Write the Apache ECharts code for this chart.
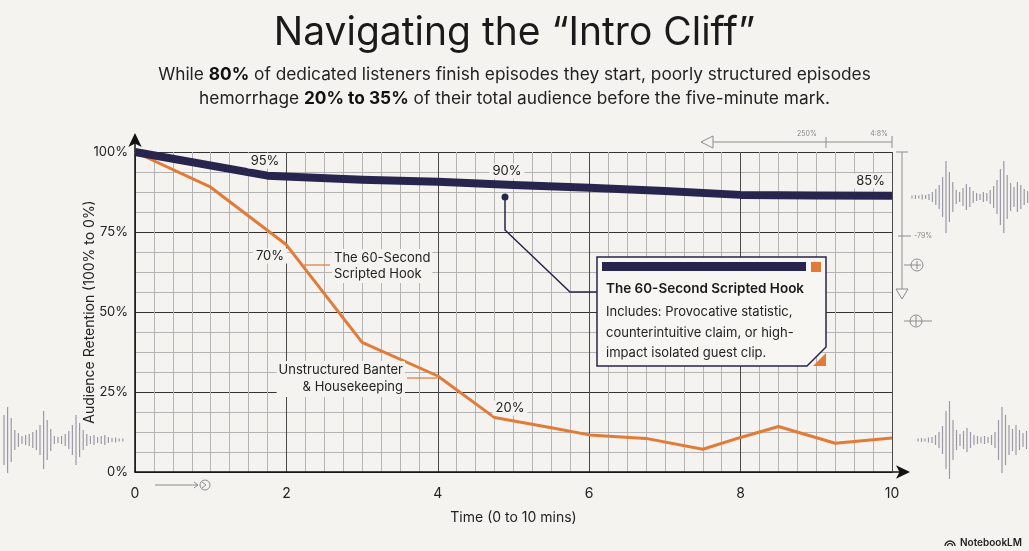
<!DOCTYPE html>
<html>
<head>
<meta charset="utf-8">
<script src="https://cdn.jsdelivr.net/npm/echarts@6/dist/echarts.min.js"></script>
<style>
  html, body { margin: 0; padding: 0; background: #f4f3ef; }
  #main { width: 1029px; height: 551px; }
</style>
</head>
<body>
<div id="main"></div>
<script>
// data
const minutesStructured = [0, 1.75, 3, 4, 5, 6, 7, 8, 9, 10];
const retentionStructured = [100, 92.6, 91.3, 90.7, 89.7, 88.8, 87.8, 86.6, 86.4, 86.3];
const minutesUnstructured = [0, 1, 2, 3, 4, 4.75, 5.5, 6, 6.75, 7.5, 8, 8.5, 9.25, 10];
const retentionUnstructured = [100, 89, 71, 40.5, 30, 17, 13.8, 11.6, 10.5, 7.1, 10.8, 14.2, 9, 10.6];
const xTickLabels = ['0', '2', '4', '6', '8', '10'];
const yTickLabels = ['0%', '25%', '50%', '75%', '100%'];

// decorative waveform bar heights
const waveRight = [3, 4, 3, 5, 4, 6, 10, 16, 24, 40, 72, 50, 30, 14, 10, 18, 26, 20, 12, 8, 6, 10, 8, 14, 22, 34, 56, 72, 44, 28, 20, 30, 24, 16, 12];
const waveLeft = [50, 66, 44, 20, 14, 8, 10, 12, 16, 20, 30, 58, 40, 22, 8, 6, 8, 12, 18, 30, 50, 34, 20, 12, 8, 10, 6, 8, 10, 6, 4, 5, 3, 3];
const waveLow = [3, 4, 3, 5, 6, 10, 16, 28, 58, 78, 40, 20, 12, 18, 24, 16, 10, 8, 6, 8, 6, 10, 16, 40, 66, 50, 30, 22, 30, 20, 14, 18];

const NAVY = '#27254d';
const ORANGE = '#e27b38';
const BG = '#f4f3ef';
const FONT = 'Inter, "Noto Sans", sans-serif';

const GRID = { left: 135, right: 137, top: 152, bottom: 79 };
const x0 = GRID.left, x1 = 1029 - GRID.right, y0 = 551 - GRID.bottom, y1 = GRID.top;

const chart = echarts.init(document.getElementById('main'));

function waveform(heights, startX, step, cy, color) {
  return heights.map((h, i) => ({
    type: 'line',
    silent: true,
    shape: { x1: startX + i * step, y1: cy - h / 2, x2: startX + i * step, y2: cy + h / 2 },
    style: { stroke: color, lineWidth: 1.2 }
  }));
}

function pctLabel(text, x, y, align) {
  return {
    type: 'text', z: 20, x: x, y: y,
    style: {
      text: text, fill: '#222', font: '13px ' + FONT,
      align: align || 'center', verticalAlign: 'middle',
      backgroundColor: BG, padding: [1, 3]
    }
  };
}

const deco = '#8d8d8d';

const graphics = [].concat(
  waveform(waveRight, 912, 3.4, 197, '#9a99a6'),
  waveform(waveLeft, 4, 3.6, 440, '#9a99a6'),
  waveform(waveLow, 918, 3.5, 440, '#9a99a6'),
  [
    // axis extensions
    { type: 'line', silent: true, shape: { x1: x1, y1: y0, x2: x1 + 14, y2: y0 }, style: { stroke: '#111', lineWidth: 1.5 } },
    { type: 'line', silent: true, shape: { x1: x0, y1: y1, x2: x0, y2: y1 - 14 }, style: { stroke: '#111', lineWidth: 1.5 } },

    // top-right scale
    { type: 'line', silent: true, shape: { x1: 710, y1: 142, x2: x1, y2: 142 }, style: { stroke: deco, lineWidth: 1 } },
    { type: 'polygon', silent: true, shape: { points: [[701, 142], [713, 136], [713, 148]] }, style: { fill: BG, stroke: deco, lineWidth: 1 } },
    { type: 'line', silent: true, shape: { x1: 826, y1: 137, x2: 826, y2: 148 }, style: { stroke: deco, lineWidth: 1 } },
    { type: 'line', silent: true, shape: { x1: x1, y1: 136, x2: x1, y2: 148 }, style: { stroke: deco, lineWidth: 1 } },
    { type: 'text', silent: true, x: 807, y: 134, style: { text: '250%', font: '7px ' + FONT, fill: '#888', align: 'center', verticalAlign: 'middle' } },
    { type: 'text', silent: true, x: 879, y: 134, style: { text: '4:8%', font: '7px ' + FONT, fill: '#888', align: 'center', verticalAlign: 'middle' } },

    // right vertical scale
    { type: 'line', silent: true, shape: { x1: 902, y1: 152, x2: 902, y2: 289 }, style: { stroke: deco, lineWidth: 1 } },
    { type: 'line', silent: true, shape: { x1: 896, y1: 152, x2: 908, y2: 152 }, style: { stroke: deco, lineWidth: 1 } },
    { type: 'polygon', silent: true, shape: { points: [[896, 289], [908, 289], [902, 299]] }, style: { fill: BG, stroke: deco, lineWidth: 1 } },
    { type: 'line', silent: true, shape: { x1: 898, y1: 236, x2: 911, y2: 236 }, style: { stroke: deco, lineWidth: 1 } },
    { type: 'text', silent: true, x: 914, y: 236, style: { text: '-79%', font: '7px ' + FONT, fill: '#888', verticalAlign: 'middle' } },
    { type: 'circle', silent: true, shape: { cx: 917, cy: 265, r: 6 }, style: { fill: 'none', stroke: deco, lineWidth: 1 } },
    { type: 'line', silent: true, shape: { x1: 917, y1: 261, x2: 917, y2: 269 }, style: { stroke: deco, lineWidth: 1 } },
    { type: 'line', silent: true, shape: { x1: 904, y1: 265, x2: 921, y2: 265 }, style: { stroke: deco, lineWidth: 1 } },
    { type: 'circle', silent: true, shape: { cx: 916, cy: 321, r: 6 }, style: { fill: 'none', stroke: deco, lineWidth: 1 } },
    { type: 'line', silent: true, shape: { x1: 904, y1: 321, x2: 932, y2: 321 }, style: { stroke: deco, lineWidth: 1 } },
    { type: 'line', silent: true, shape: { x1: 916, y1: 316, x2: 916, y2: 326 }, style: { stroke: deco, lineWidth: 1 } },

    // bottom-left arrow
    { type: 'line', silent: true, shape: { x1: 155, y1: 485, x2: 198, y2: 485 }, style: { stroke: deco, lineWidth: 1 } },
    { type: 'circle', silent: true, shape: { cx: 205, cy: 485, r: 5 }, style: { fill: 'none', stroke: deco, lineWidth: 1 } },
    { type: 'polyline', silent: true, shape: { points: [[202, 482], [206, 485], [202, 488]] }, style: { stroke: deco, lineWidth: 1, fill: 'none' } },
    { type: 'polyline', silent: true, shape: { points: [[194, 482], [198, 485], [194, 488]] }, style: { stroke: deco, lineWidth: 1, fill: 'none' } },

    // point labels
    pctLabel('95%', 265, 161),
    pctLabel('90%', 507, 171),
    pctLabel('85%', 888, 181, 'right'),
    pctLabel('70%', 270, 256),
    pctLabel('20%', 510, 408),

    // line annotations
    { type: 'line', z: 20, silent: true, shape: { x1: 304, y1: 265, x2: 330, y2: 265 }, style: { stroke: ORANGE, lineWidth: 1.2 } },
    { type: 'text', z: 20, x: 332, y: 266, style: { text: 'The 60-Second\nScripted Hook', font: '13px ' + FONT, fill: '#222', lineHeight: 16, verticalAlign: 'middle', backgroundColor: BG, padding: [1, 2] } },
    { type: 'line', z: 20, silent: true, shape: { x1: 407, y1: 378, x2: 437, y2: 378 }, style: { stroke: ORANGE, lineWidth: 1.2 } },
    { type: 'text', z: 20, x: 405, y: 379, style: { text: 'Unstructured Banter\n& Housekeeping', font: '13px ' + FONT, fill: '#222', lineHeight: 17, align: 'right', verticalAlign: 'middle', backgroundColor: BG, padding: [1, 2] } },

    // callout
    { type: 'circle', z: 20, shape: { cx: 505, cy: 197, r: 3.5 }, style: { fill: NAVY } },
    { type: 'polyline', z: 20, shape: { points: [[505, 197], [505, 230], [570, 292], [598, 292]] }, style: { stroke: NAVY, lineWidth: 1.5, fill: 'none' } },
    { type: 'polygon', z: 20, shape: { points: [[597, 257], [826, 257], [826, 347], [807, 366], [597, 366]] }, style: { fill: '#f7f6f2', stroke: NAVY, lineWidth: 1.5 } },
    { type: 'rect', z: 21, shape: { x: 602, y: 262, width: 204, height: 9 }, style: { fill: NAVY } },
    { type: 'rect', z: 21, shape: { x: 811, y: 262, width: 10, height: 10 }, style: { fill: ORANGE } },
    { type: 'polygon', z: 21, shape: { points: [[826, 353], [826, 366], [813, 366]] }, style: { fill: ORANGE } },
    { type: 'text', z: 21, x: 606, y: 289, style: { text: 'The 60-Second Scripted Hook', font: '600 13.5px ' + FONT, fill: '#1a1a1a', verticalAlign: 'middle' } },
    { type: 'text', z: 21, x: 606, y: 302, style: { text: 'Includes: Provocative statistic,\ncounterintuitive claim, or high-\nimpact isolated guest clip.', font: '13px ' + FONT, fill: '#222', lineHeight: 20.5, verticalAlign: 'top' } },

    // footer logo
    { type: 'text', silent: true, x: 1022, y: 543, style: { text: 'NotebookLM', font: '600 10px ' + FONT, fill: '#222', align: 'right', verticalAlign: 'middle' } },
    { type: 'arc', silent: true, shape: { cx: 950, cy: 546, r: 5, startAngle: Math.PI, endAngle: 2 * Math.PI }, style: { stroke: '#222', lineWidth: 1.3, fill: 'none' } },
    { type: 'arc', silent: true, shape: { cx: 950, cy: 546, r: 2.5, startAngle: Math.PI, endAngle: 2 * Math.PI }, style: { stroke: '#222', lineWidth: 1.2, fill: 'none' } }
  ]
);

const option = {
  backgroundColor: BG,
  animation: false,
  textStyle: { fontFamily: FONT },
  title: {
    left: 'center',
    top: 9,
    text: 'Navigating the \u201cIntro Cliff\u201d',
    textStyle: { fontSize: 39, fontWeight: 400, color: '#1a1a1a', fontFamily: FONT },
    subtext: '{n|While }{b|80%}{n| of dedicated listeners finish episodes they start, poorly structured episodes}\n{n|hemorrhage }{b|20% to 35%}{n| of their total audience before the five-minute mark.}',
    subtextStyle: {
      lineHeight: 24,
      rich: {
        n: { fontSize: 17.3, color: '#222', fontFamily: FONT, lineHeight: 24 },
        b: { fontSize: 17.3, color: '#111', fontWeight: 700, fontFamily: FONT, lineHeight: 24 }
      }
    },
    itemGap: 10
  },
  grid: { left: GRID.left, right: GRID.right, top: GRID.top, bottom: GRID.bottom },
  xAxis: {
    type: 'value',
    min: 0,
    max: 10,
    interval: 2,
    name: 'Time (0 to 10 mins)',
    nameLocation: 'middle',
    nameGap: 39,
    nameMoveOverlap: false,
    nameTextStyle: { fontSize: 14, color: '#222' },
    axisLine: { show: true, lineStyle: { color: '#111', width: 1.5 }, symbol: ['none', 'arrow'], symbolSize: [10, 14], symbolOffset: [0, 18] },
    axisTick: { show: false },
    axisLabel: { fontSize: 14, color: '#222', margin: 15, formatter: (v) => xTickLabels[Math.round(v / 2)] },
    splitLine: { show: true, lineStyle: { color: '#4a4a4a', width: 1 } },
    minorTick: { show: false, splitNumber: 8 },
    minorSplitLine: { show: true, lineStyle: { color: '#b4b4b4', width: 1 } }
  },
  yAxis: {
    type: 'value',
    min: 0,
    max: 100,
    interval: 25,
    name: 'Audience Retention (100% to 0%)',
    nameLocation: 'middle',
    nameGap: 38,
    nameMoveOverlap: false,
    nameTextStyle: { fontSize: 14, color: '#222' },
    axisLine: { show: true, lineStyle: { color: '#111', width: 1.5 }, symbol: ['none', 'arrow'], symbolSize: [10, 14], symbolOffset: [0, 19] },
    axisTick: { show: false },
    axisLabel: { fontSize: 13, color: '#222', margin: 7, formatter: (v) => yTickLabels[Math.round(v / 25)] },
    splitLine: { show: true, lineStyle: { color: '#333', width: 1 } },
    minorTick: { show: false, splitNumber: 4 },
    minorSplitLine: { show: true, lineStyle: { color: '#b4b4b4', width: 1 } }
  },
  series: [
    {
      name: 'Unstructured',
      type: 'line',
      data: minutesUnstructured.map((m, i) => [m, retentionUnstructured[i]]),
      symbol: 'none',
      lineStyle: { color: ORANGE, width: 3, join: 'round' },
      z: 4
    },
    {
      name: 'Structured',
      type: 'line',
      data: minutesStructured.map((m, i) => [m, retentionStructured[i]]),
      symbol: 'none',
      lineStyle: { color: NAVY, width: 8, join: 'round', cap: 'butt' },
      z: 5
    }
  ],
  graphic: graphics
};

chart.setOption(option);
</script>
</body>
</html>
